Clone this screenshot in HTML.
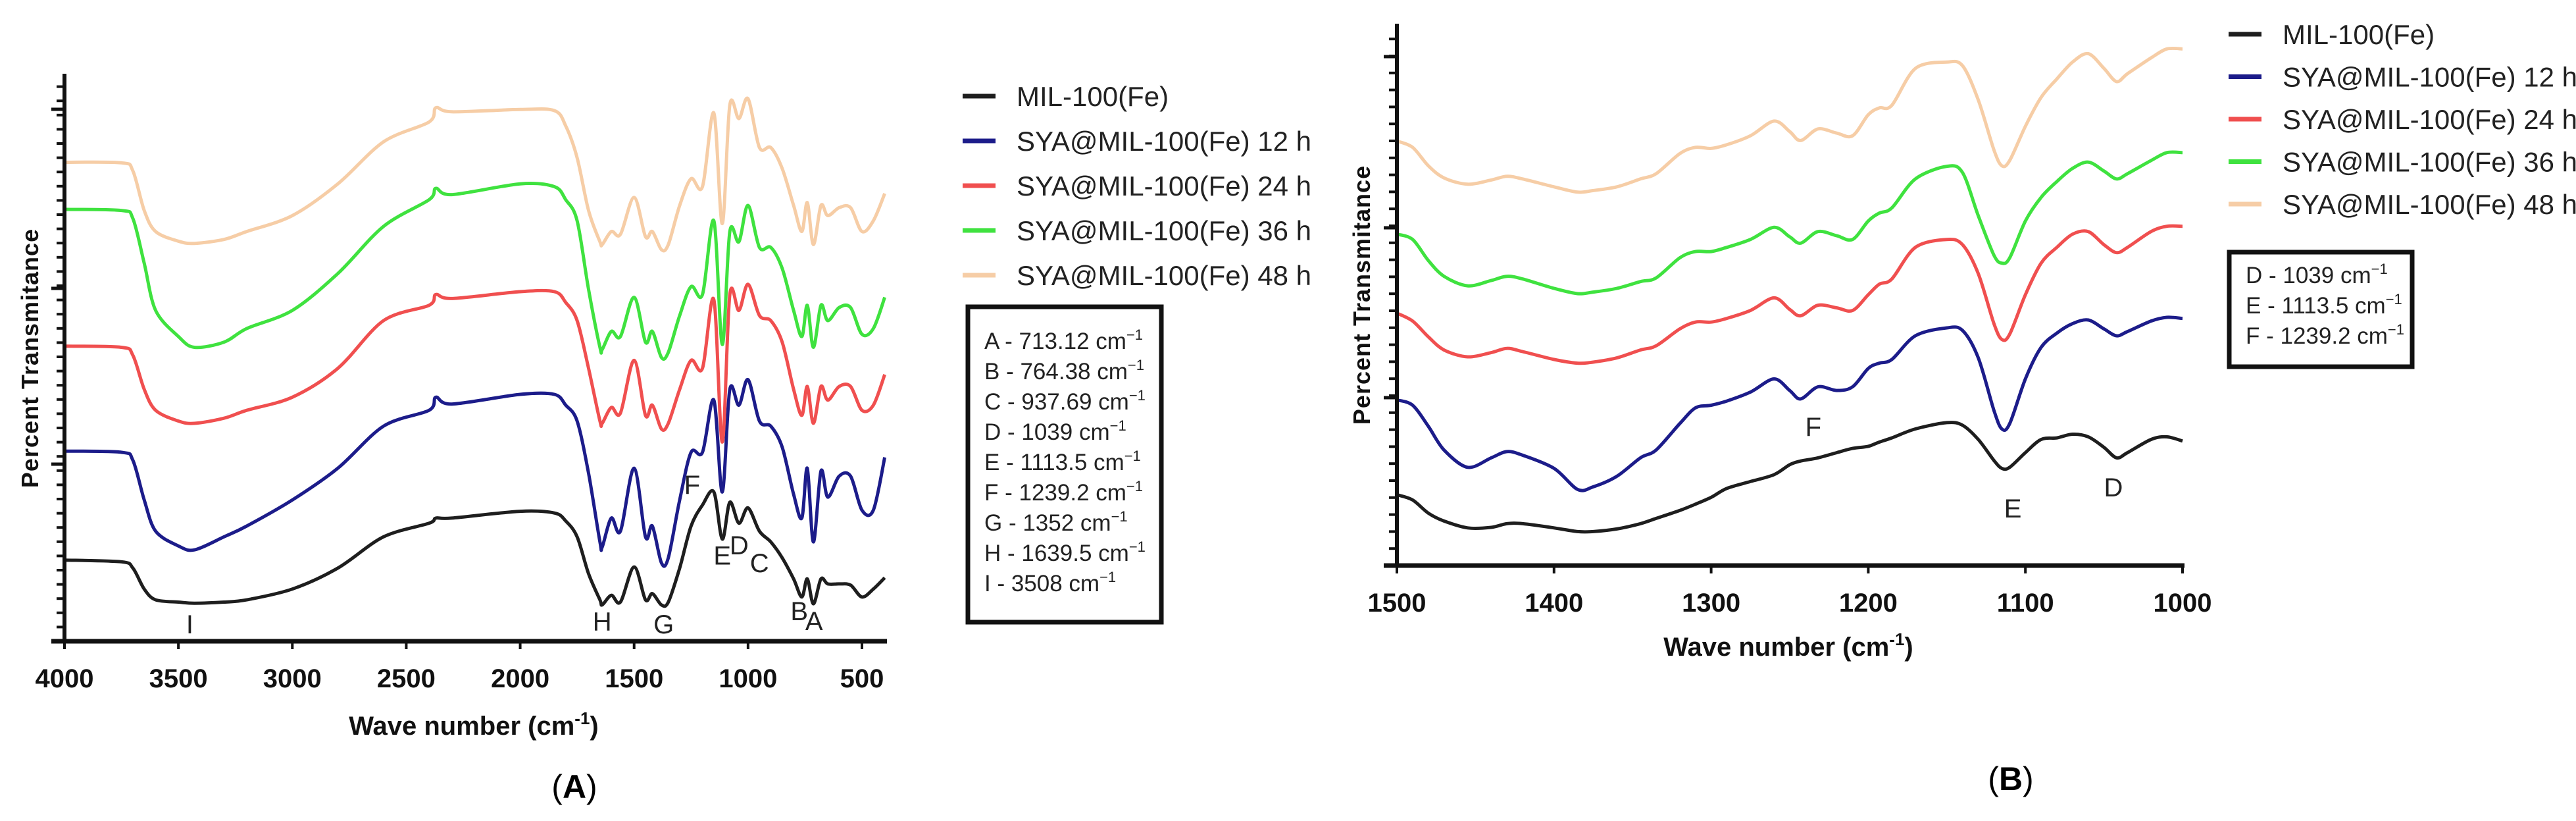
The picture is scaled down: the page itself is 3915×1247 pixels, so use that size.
<!DOCTYPE html>
<html><head><meta charset="utf-8">
<style>
html,body{margin:0;padding:0;background:#fff;}
svg{display:block;}
text{font-family:"Liberation Sans",Arial,sans-serif;}
</style></head>
<body>
<svg id="fig" width="3915" height="1247" viewBox="0 0 3915 1247" xmlns="http://www.w3.org/2000/svg">
<g id="panelA"></g>
<g id="panelB"></g>
</svg>
<script>
// ---------- Panel A data ----------
const seriesNames = ["MIL-100(Fe)","SYA@MIL-100(Fe) 12 h","SYA@MIL-100(Fe) 24 h","SYA@MIL-100(Fe) 36 h","SYA@MIL-100(Fe) 48 h"];
const seriesColors = ["#1e1e1e","#1c1c8a","#f04f4f","#3fe23f","#f6cda6"];
const waveA = [4000,3750,3700,3650,3600,3500,3430,3300,3200,3000,2800,2600,2400,2370,2300,2000,1850,1800,1750,1700,1650,1640,1600,1560,1500,1450,1420,1380,1350,1300,1250,1200,1150,1113,1080,1040,1000,950,900,850,800,764,740,713,680,650,600,550,500,450,400];
const A_mil = [14.3,14.0,12.9,9.2,7.3,6.9,6.7,6.9,7.3,9.2,12.9,18.4,20.8,21.7,21.7,22.9,22.6,21.2,18.4,11.9,7.3,6.4,8.1,6.9,13.1,7.3,8.4,6.4,6.9,12.9,20.3,24.0,26.3,18.0,24.5,20.8,23.5,19.4,17.5,14.7,11.0,7.8,11.0,6.6,11.0,10.1,10.1,9.9,7.8,9.2,11.2];
const A_12 = [33.5,33.3,31.9,24.9,19.4,16.8,16.1,18.4,20.3,24.9,30.5,37.9,40.7,43.0,41.8,43.5,43.5,41.6,38.8,29.6,17.5,16.6,21.7,19.4,30.5,18.4,20.3,13.8,14.7,24.9,33.3,33.3,42.5,26.3,44.4,41.6,46.1,38.8,37.9,34.2,25.9,21.7,30.5,17.5,30.0,25.4,29.1,29.1,23.1,23.1,32.4];
const A_24 = [52.0,51.8,50.4,44.4,40.7,38.8,38.4,39.3,40.7,43.0,48.1,56.5,59.2,61.1,60.4,61.6,61.6,59.7,56.5,48.1,38.8,38.4,41.2,40.2,49.5,39.8,41.6,37.4,38.4,44.4,49.5,48.1,60.2,35.1,61.1,58.3,62.9,57.4,56.5,52.7,44.4,39.8,44.9,38.4,44.9,42.5,44.9,44.9,40.7,41.6,47.0];
const A_36 = [76.1,75.9,74.5,66.6,58.3,53.7,51.8,52.7,55.1,58.3,64.8,73.1,77.8,79.8,78.7,80.6,80.1,77.8,74.1,62.0,51.8,51.4,54.6,53.7,60.6,52.7,54.6,50.0,50.9,57.4,62.5,61.1,74.1,52.3,72.2,70.4,76.8,69.4,69.4,65.7,58.3,53.7,59.2,51.8,59.2,56.5,58.8,58.8,54.1,55.1,60.6];
const A_48 = [84.4,84.3,82.9,75.9,72.2,70.5,70.1,70.8,72.2,75.0,80.6,88.0,91.5,94.0,93.3,93.7,93.5,90.8,85.2,75.9,70.4,69.9,72.2,71.7,78.2,71.3,72.2,69.0,69.9,76.8,81.5,80.1,93.1,73.6,94.5,92.1,95.6,87.0,87.0,83.3,76.8,72.2,77.3,69.9,76.8,75.0,76.4,76.4,72.2,74.1,78.9];
const xTicksA = [4000,3500,3000,2500,2000,1500,1000,500];
const peakLabelsA = ["I","H","G","F","E","D","C","B","A"];
const peakWavesA = [3450,1640,1370,1245,1113,1039,950,775,710];
const peakLevelsA = [1.4,1.9,1.4,26.0,13.5,15.3,12.2,3.7,2.0];
const boxTextA = ["A - 713.12 cm","B - 764.38 cm","C - 937.69 cm","D - 1039 cm","E - 1113.5 cm","F - 1239.2 cm","G - 1352 cm","H - 1639.5 cm","I - 3508 cm"];

// ---------- Panel B data ----------
const waveB = [1500,1490,1480,1470,1455,1440,1430,1420,1400,1385,1375,1360,1345,1335,1320,1310,1300,1290,1275,1260,1250,1243,1232,1220,1210,1200,1193,1185,1170,1150,1140,1130,1120,1115,1110,1100,1090,1080,1070,1060,1050,1042,1035,1020,1010,1000];
const B_mil = [16.0,15.0,12.5,11.0,9.7,9.8,10.5,10.5,9.7,9.0,9.0,9.5,10.5,11.5,13.0,14.2,15.5,17.2,18.5,19.8,21.7,22.4,23.0,24.0,24.8,25.2,26.0,26.8,28.5,29.7,29.2,26.5,22.5,21.0,21.2,24.0,26.5,26.8,27.5,27.0,25.0,23.0,24.0,26.5,27.0,26.2];
const B_12 = [34.0,33.0,29.0,24.5,21.2,23.0,24.2,23.5,21.0,17.0,17.5,19.5,23.0,24.5,29.5,32.5,33.0,33.8,35.5,38.0,35.8,34.2,36.5,35.8,36.5,40.0,41.0,41.7,46.2,47.7,47.2,42.0,32.0,28.5,29.5,38.0,44.0,46.7,48.5,49.2,47.5,46.2,47.0,49.0,49.7,49.5];
const B_24 = [50.5,49.0,46.0,43.5,42.2,43.0,43.8,43.2,41.7,41.0,41.2,42.0,43.5,44.3,47.5,48.8,48.8,49.5,51.0,53.4,51.2,50.0,52.0,51.5,51.0,54.0,56.0,57.0,63.0,64.5,63.5,58.0,48.5,45.5,46.5,54.0,60.0,63.0,65.5,66.0,63.5,62.0,63.0,66.0,67.0,67.0];
const B_36 = [65.5,64.5,60.5,57.5,55.7,56.7,57.5,57.0,55.2,54.2,54.5,55.2,56.5,57.2,61.0,62.2,62.2,63.0,64.5,66.8,65.0,63.8,66.0,65.2,64.5,68.0,69.5,70.5,76.0,78.4,77.2,69.0,61.5,60.0,61.0,68.0,72.5,75.5,78.0,79.2,77.5,76.0,77.0,79.5,81.0,81.0];
const B_48 = [83.2,82.0,78.5,76.2,75.0,75.8,76.5,76.0,74.5,73.5,73.8,74.5,76.0,77.0,80.8,82.0,81.8,82.5,84.2,87.0,85.0,83.3,85.5,84.7,84.2,88.2,89.5,90.0,97.0,98.2,97.5,91.0,81.5,78.5,79.5,86.0,91.5,95.0,98.2,99.8,97.0,94.5,96.0,99.0,100.7,100.7];
const xTicksB = [1500,1400,1300,1200,1100,1000];
const peakLabelsB = ["F","E","D"];
const peakWavesB = [1235,1108,1044];
const peakLevelsB = [27.2,11.7,15.7];
const boxTextB = ["D - 1039 cm","E - 1113.5 cm","F - 1239.2 cm"];

const NS = "http://www.w3.org/2000/svg";
function mk(parent, tag, attrs, txt){
  const e = document.createElementNS(NS, tag);
  for (const k in attrs) e.setAttribute(k, attrs[k]);
  if (txt !== undefined) e.textContent = txt;
  parent.appendChild(e);
  return e;
}
function smoothPath(pts){
  let d = "M" + pts[0][0].toFixed(1) + "," + pts[0][1].toFixed(1);
  for (let i = 0; i < pts.length - 1; i++){
    const p0 = pts[Math.max(0,i-1)], p1 = pts[i], p2 = pts[i+1], p3 = pts[Math.min(pts.length-1,i+2)];
    const t = 0.16;
    const c1x = p1[0] + (p2[0]-p0[0])*t, c1y = p1[1] + (p2[1]-p0[1])*t;
    const c2x = p2[0] - (p3[0]-p1[0])*t, c2y = p2[1] - (p3[1]-p1[1])*t;
    d += " C" + c1x.toFixed(1) + "," + c1y.toFixed(1) + " " + c2x.toFixed(1) + "," + c2y.toFixed(1) + " " + p2[0].toFixed(1) + "," + p2[1].toFixed(1);
  }
  return d;
}

function drawPanel(g, cfg){
  for (let y = cfg.yBottom - cfg.minorStep; y >= cfg.yTop; y -= cfg.minorStep){
    const t = mk(g, "line", {x1: cfg.xLeft - 12, x2: cfg.xLeft, y1: y, y2: y, stroke: "#111", "stroke-width": 4});
    
    
  }
  cfg.majorY.forEach(y => {
    const t = mk(g, "line", {x1: cfg.xLeft - 20, x2: cfg.xLeft, y1: y, y2: y, stroke: "#111", "stroke-width": 5});
    
    
  });
  cfg.series.forEach((vals, si) => {
    const pts = cfg.waves.map((w, i) => [cfg.xs(w), cfg.ys(vals[i])]);
    const p = mk(g, "path", {d: smoothPath(pts), fill: "none", stroke: seriesColors[si], "stroke-width": 5, "stroke-linejoin": "round"});
    
    
  });
  const ya = mk(g, "line", {x1: cfg.xLeft, x2: cfg.xLeft, y1: cfg.yTop, y2: cfg.yBottom + 3, stroke: "#111", "stroke-width": 6});
  
  
  const xa = mk(g, "line", {x1: cfg.xLeft - 20, x2: cfg.xRight, y1: cfg.yBottom, y2: cfg.yBottom, stroke: "#111", "stroke-width": 7});
  
  
  cfg.xTicks.forEach(v => {
    const tk = mk(g, "line", {x1: cfg.xs(v), x2: cfg.xs(v), y1: cfg.yBottom, y2: cfg.yBottom + 12, stroke: "#111", "stroke-width": 4});
    
    
    const tl = mk(g, "text", {x: cfg.xs(v), y: cfg.yBottom + 70, "text-anchor": "middle", "font-size": 40, "font-weight": "bold", fill: "#111"}, String(v));
    
    
  });
  const xt = mk(g, "text", {x: cfg.xTitleX, y: cfg.xTitleY, "text-anchor": "middle", "font-size": 40, "font-weight": "bold", fill: "#111"});
  
  
  xt.appendChild(document.createTextNode("Wave number (cm"));
  mk(xt, "tspan", {dy: -16, "font-size": 26}, "-1");
  mk(xt, "tspan", {dy: 16}, ")");
  const yt = mk(g, "text", {x: 0, y: 0, transform: "translate(" + cfg.yTitleX + "," + cfg.yTitleY + ") rotate(-90)", "text-anchor": "middle", "font-size": 36, "font-weight": "bold", fill: "#111", "letter-spacing": "1"}, "Percent Transmitance");
  
  
  cfg.peakLabels.forEach((L, i) => {
    const t = mk(g, "text", {x: cfg.xs(cfg.peakWaves[i]), y: cfg.ys(cfg.peakLevels[i]), "text-anchor": "middle", "font-size": 40, fill: "#222"}, L);
    
    
  });
  seriesNames.forEach((n, i) => {
    const y = cfg.legY0 + i * cfg.legStep;
    const ln = mk(g, "line", {x1: cfg.legX, x2: cfg.legX + 50, y1: y, y2: y, stroke: seriesColors[i], "stroke-width": 7});
    
    
    const tx = mk(g, "text", {x: cfg.legX + 82, y: y + 15, "font-size": 42, fill: "#222"}, n);
    
    
  });
  const bx = mk(g, "rect", {x: cfg.box[0], y: cfg.box[1], width: cfg.box[2], height: cfg.box[3], fill: "#fff", stroke: "#111", "stroke-width": 7});
  
  
  cfg.boxText.forEach((s, i) => {
    const t = mk(g, "text", {x: cfg.box[0] + 25, y: cfg.boxY0 + i * 46, "font-size": 35, fill: "#222"});
    
    
    t.appendChild(document.createTextNode(s));
    mk(t, "tspan", {dy: -14, "font-size": 22}, "\u22121");
  });
  const pl = mk(g, "text", {x: cfg.panelX, y: cfg.panelY, "text-anchor": "middle", "font-size": 50, fill: "#000", "font-family": "Liberation Serif, serif"});
  
  
  pl.appendChild(document.createTextNode("("));
  mk(pl, "tspan", {"font-weight": "bold"}, cfg.panelLetter);
  pl.appendChild(document.createTextNode(")"));
}

const xsA = w => 98 + (4000 - w) * (1212 / 3500);
const ysA = v => 974 - v * 8.62;
drawPanel(document.getElementById("panelA"), {
  xLeft: 98, xRight: 1348, yTop: 112, yBottom: 974, minorStep: 21.6, majorY: [166, 438, 705],
  xs: xsA, ys: ysA, waves: waveA, series: [A_mil, A_12, A_24, A_36, A_48], xTicks: xTicksA,
  xTitleX: 720, xTitleY: 1116, yTitleX: 58, yTitleY: 544,
  peakLabels: peakLabelsA, peakWaves: peakWavesA, peakLevels: peakLevelsA,
  legX: 1463, legY0: 146, legStep: 68,
  box: [1471, 466, 294, 479], boxText: boxTextA, boxY0: 530,
  panelX: 873, panelY: 1212, panelLetter: "A"
});

const xsB = w => 2123 + (1500 - w) * (1194 / 500);
const ysB = v => (1100 - 10 * v) / 1.251;
drawPanel(document.getElementById("panelB"), {
  xLeft: 2123, xRight: 3320, yTop: 36, yBottom: 859, minorStep: 25.8, majorY: [86, 346, 604],
  xs: xsB, ys: ysB, waves: waveB, series: [B_mil, B_12, B_24, B_36, B_48], xTicks: xTicksB,
  xTitleX: 2718, xTitleY: 996, yTitleX: 2082, yTitleY: 448,
  peakLabels: peakLabelsB, peakWaves: peakWavesB, peakLevels: peakLevelsB,
  legX: 3387, legY0: 52, legStep: 64.5,
  box: [3388, 383, 278, 174], boxText: boxTextB, boxY0: 430,
  panelX: 3056, panelY: 1200, panelLetter: "B"
});
</script>
</body></html>
